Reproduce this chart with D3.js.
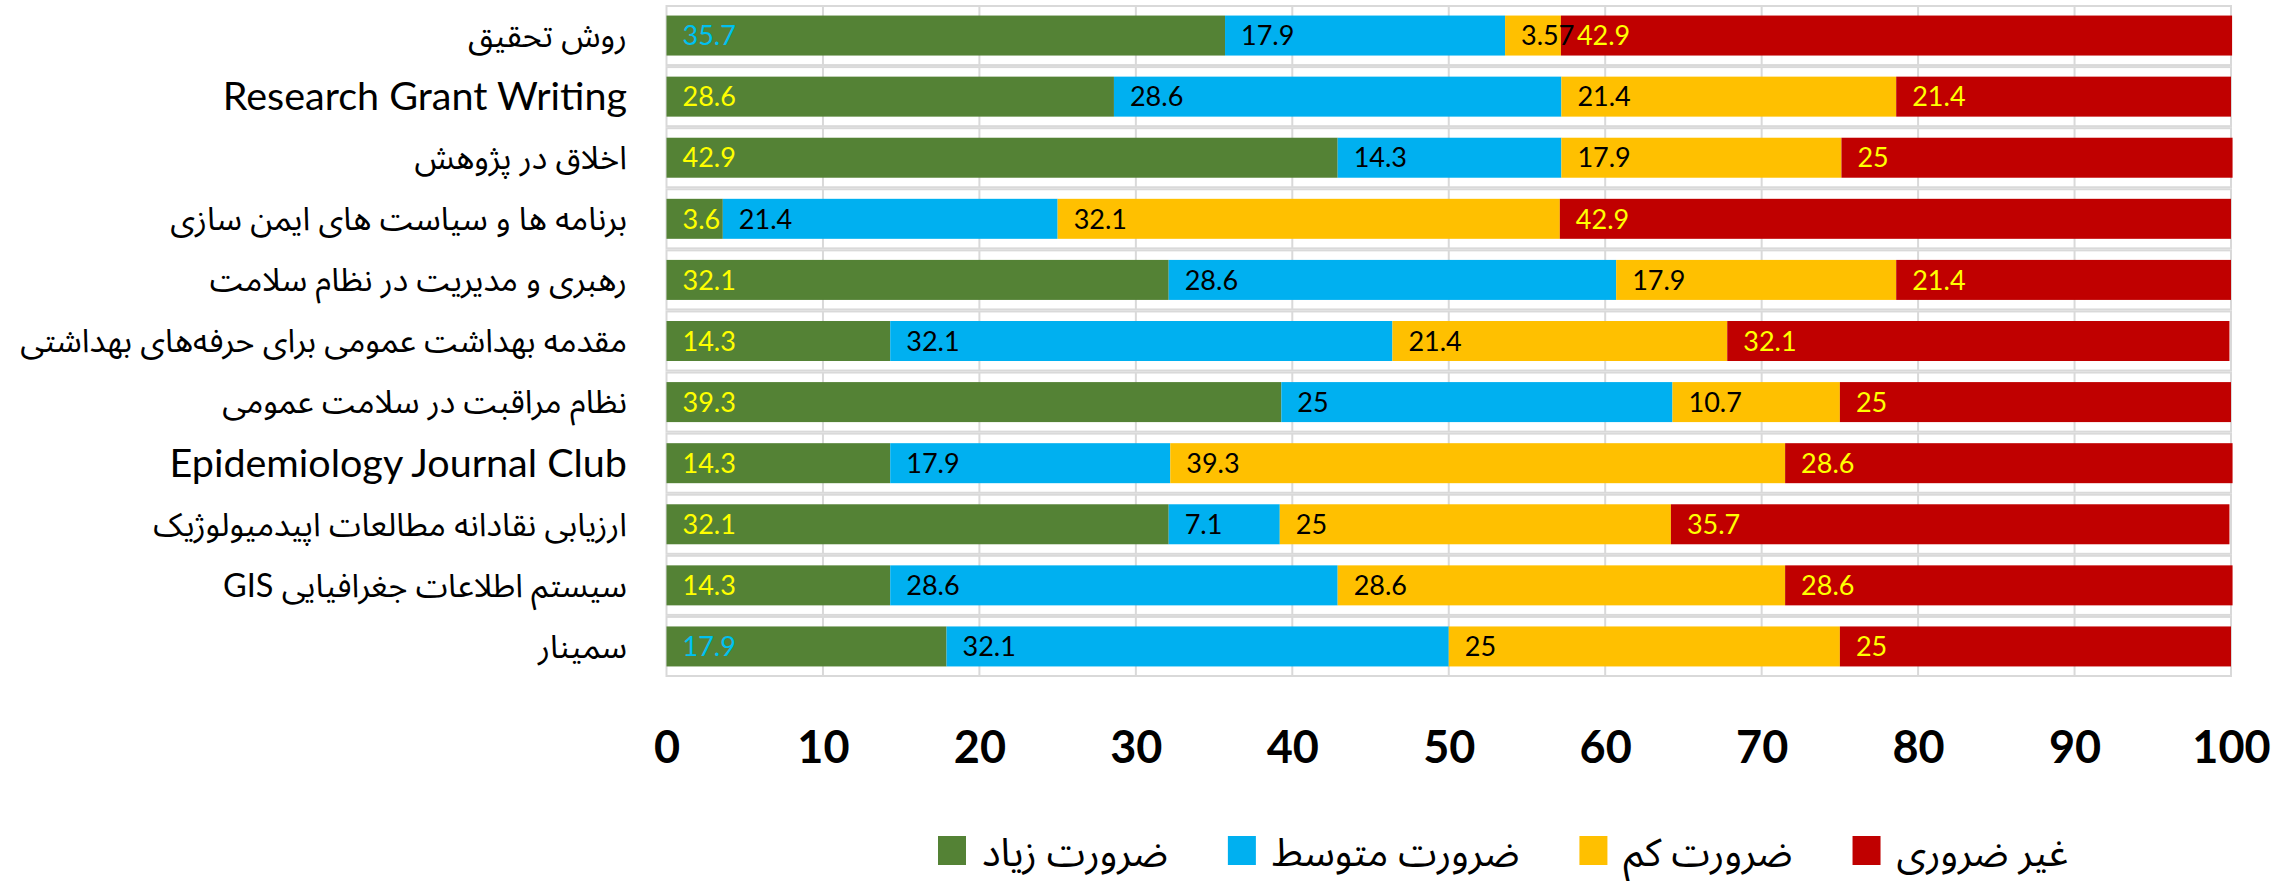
<!DOCTYPE html>
<html>
<head>
<meta charset="utf-8">
<style>
  body { margin: 0; background: #fff; }
  #chart-area svg { display: block; }
  text { font-family: Lato, "Noto Sans Arabic", "DejaVu Sans", sans-serif; }
</style>
</head>
<body>
<div id="chart-area"></div>

<script src="https://cdn.jsdelivr.net/npm/d3@7"></script>
<script>
// categories, top row first
var categories = [
  "روش تحقیق",
  "Research Grant Writing",
  "اخلاق در پژوهش",
  "برنامه ها و سیاست های ایمن سازی",
  "رهبری و مدیریت در نظام سلامت",
  "مقدمه بهداشت عمومی برای حرفه\u200cهای بهداشتی",
  "نظام مراقبت در سلامت عمومی",
  "Epidemiology Journal Club",
  "ارزیابی نقادانه مطالعات اپیدمیولوژیک",
  "سیستم اطلاعات جغرافیایی GIS",
  "سمینار"
];
var seriesNames = ["ضرورت زیاد", "ضرورت متوسط", "ضرورت کم", "غیر ضروری"];
var high   = [35.7, 28.6, 42.9, 3.6, 32.1, 14.3, 39.3, 14.3, 32.1, 14.3, 17.9];
var medium = [17.9, 28.6, 14.3, 21.4, 28.6, 32.1, 25, 17.9, 7.1, 28.6, 32.1];
var low    = [3.57, 21.4, 17.9, 32.1, 17.9, 21.4, 10.7, 39.3, 25, 28.6, 25];
var none   = [42.9, 21.4, 25, 42.9, 21.4, 32.1, 25, 28.6, 35.7, 28.6, 25];
var xTicks = [0, 10, 20, 30, 40, 50, 60, 70, 80, 90, 100];

var width = 2295, height = 881;
var colors = ["#548235", "#00b0f0", "#ffc000", "#c00000"];
// label colour per series; a couple of rows use cyan on the green segment
var labelColors = ["#ffff00", "#000000", "#000000", "#ffff00"];
var cyanGreenRows = [0, 10];
var isRtl = function(s) { return /[\u0600-\u06FF]/.test(s); };

var rows = categories.map(function(c, i) {
  var r = { cat: c, i: i };
  r[seriesNames[0]] = high[i];
  r[seriesNames[1]] = medium[i];
  r[seriesNames[2]] = low[i];
  r[seriesNames[3]] = none[i];
  return r;
});

var stacked = d3.stack().keys(seriesNames)(rows);

var x = d3.scaleLinear().domain([0, 100]).range([666.5, 2231]);
var y = d3.scaleBand().domain(categories).range([5, 677]).padding(0);
var barH = 40;
var barOff = (y.bandwidth() - barH) / 2;

var svg = d3.select("#chart-area").append("svg")
    .attr("width", width)
    .attr("height", height);

// each row sits in its own little frame with gridlines
var frames = svg.append("g").selectAll("g")
  .data(categories)
  .enter().append("g")
    .attr("transform", function(d) { return "translate(0," + y(d) + ")"; });

frames.selectAll("line")
  .data(xTicks.slice(1, -1))
  .enter().append("line")
    .attr("x1", function(d) { return x(d); })
    .attr("x2", function(d) { return x(d); })
    .attr("y1", 1)
    .attr("y2", y.bandwidth() - 1)
    .attr("stroke", "#d9d9d9")
    .attr("stroke-width", 2);

frames.append("rect")
    .attr("x", x(0))
    .attr("y", 1)
    .attr("width", x(100) - x(0))
    .attr("height", y.bandwidth() - 2)
    .attr("fill", "none")
    .attr("stroke", "#d9d9d9")
    .attr("stroke-width", 2);

// bars
var series = svg.append("g").selectAll("g")
  .data(stacked)
  .enter().append("g")
    .attr("fill", function(d, i) { return colors[i]; });

series.selectAll("rect")
  .data(function(d) { return d; })
  .enter().append("rect")
    .attr("x", function(d) { return x(d[0]); })
    .attr("y", function(d) { return y(d.data.cat) + barOff; })
    .attr("width", function(d) { return x(d[1]) - x(d[0]); })
    .attr("height", barH);

// value labels
stacked.forEach(function(s, si) {
  svg.append("g").selectAll("text")
    .data(s)
    .enter().append("text")
      .attr("x", function(d) { return x(d[0]) + 16; })
      .attr("y", function(d) { return y(d.data.cat) + y.bandwidth() / 2; })
      .attr("dy", "0.36em")
      .attr("font-size", 27)
      .attr("fill", function(d) {
        if (si === 0 && cyanGreenRows.indexOf(d.data.i) >= 0) return "#00c0f0";
        return labelColors[si];
      })
      .text(function(d) { return String(d.data[s.key]); });
});

// category labels
svg.append("g").selectAll("text")
  .data(categories)
  .enter().append("text")
    .attr("x", 627)
    .attr("y", function(d) { return y(d) + y.bandwidth() / 2; })
    .attr("dy", "0.35em")
    .attr("font-size", function(d) { return isRtl(d) ? 32.5 : 39.5; })
    .attr("direction", function(d) { return isRtl(d) ? "rtl" : "ltr"; })
    .attr("text-anchor", function(d) { return isRtl(d) ? "start" : "end"; })
    .attr("fill", "#000")
    .text(function(d) { return d; });

// x axis
var axis = svg.append("g")
    .attr("transform", "translate(0,763)")
    .call(d3.axisBottom(x).tickValues(xTicks).tickSize(0).tickPadding(0));
axis.select(".domain").remove();
axis.selectAll("text")
    .attr("y", 0)
    .attr("dy", 0)
    .attr("font-size", 45)
    .attr("font-weight", "bold")
    .attr("fill", "#000")
    .style("font-family", "Lato, sans-serif");

// legend
var legend = svg.append("g");
var lx = 938;
seriesNames.forEach(function(name, i) {
  legend.append("rect")
      .attr("x", lx)
      .attr("y", 836)
      .attr("width", 28)
      .attr("height", 29)
      .attr("fill", colors[i]);
  var t = legend.append("text")
      .attr("x", lx + 44)
      .attr("y", 866)
      .attr("font-size", 39)
      .attr("direction", "rtl")
      .attr("text-anchor", "end")
      .attr("fill", "#000")
      .text(name);
  lx += 44 + t.node().getComputedTextLength() + 60;
});
</script>
</body>
</html>
